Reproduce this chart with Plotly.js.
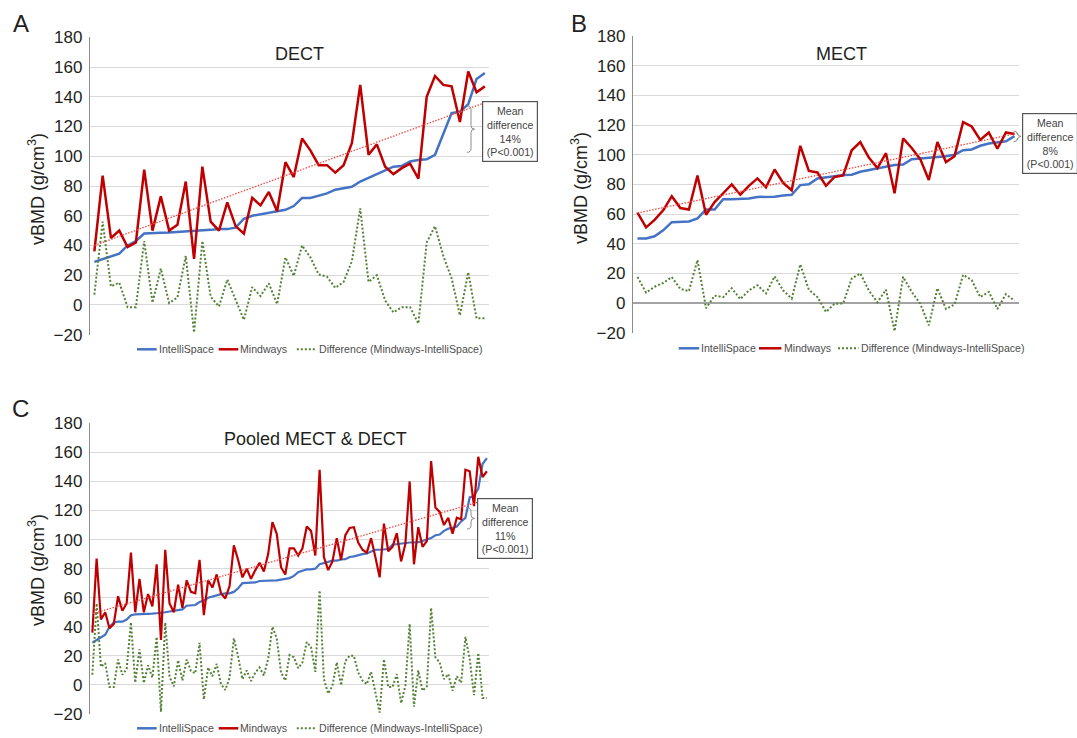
<!DOCTYPE html>
<html><head><meta charset="utf-8">
<script src="https://cdn.plot.ly/plotly-3.0.1.min.js"></script>
<style>html,body{margin:0;padding:0;background:#fff}#chart{width:1077px;height:738px}</style>
</head><body><div id="chart"></div>
<script>
// ---------- DATA ----------
// Panel A: DECT (48 cases, sorted by IntelliSpace)
const dectIntelli = [29,31,32.5,34.5,40,43,48,48.5,48.5,48.7,49,49.3,49.5,50,50.5,51,51,52,58,60,61,61.5,62.5,64,66.5,72,72,73.5,75,77.5,78.5,79.5,83,85.5,88,90,93,93.5,96.5,97.5,98,101,115,129,130,135,152,156];
const dectMindways = [36,87,45,50,39,42,91,50,73,50,54,83,31,93,56,50,69,53,48,72,67,76,63,96,86,112,104,94,94,89,94,109,148,101,108,93,88,92,95,85,140,154,148,147,123,157,143,147];
const dectDiff = [7,56,12.5,15,-1.5,-1.5,43,1.5,24.5,1.3,5,33,-18.5,43,5.5,-1,17,3,-10,12,6,14.5,0.5,32,19.5,40,32,20.5,19,11.5,15.5,29.5,65,15.5,20,3,-5,-1.5,-1.5,-12.5,42,53,33,18,-7,22,-9,-9];
const dectTrend = [40,136];          // Mindways linear trend at first / last case

// Panel B: MECT (45 cases)
const mectIntelli = [43.5,43.5,45,49,54.5,54.5,55,57,63,63,70,70,70.3,70.5,71.5,71.5,71.7,72.5,73,79.5,80,84,85,85.5,86.3,86.5,88.5,89.5,90.5,92,93,93.3,97,97.5,98,98.2,99,100,103,103.5,106,107.5,108,109,112.5];
const mectMindways = [61,51,56,62.5,72,64,63,86,59.5,68,74,80,73,79,84,78,90,81,76,106,89,88,79,85,86,103,108.5,98,91,101,74,111,104.5,97,83,108.5,95,99,122,119,110,115,104,115,114];
const mectDiff = [17.5,7,11,13.5,17.5,9.5,8,29,-3.5,5,4,10,2.7,8.5,12,6.5,18,8.5,3,26,9,4,-6,-0.5,-0.3,16.5,20,8.5,0.5,9,-19,17.7,7.5,-0.5,-15,10,-4,-1,19,15.5,4,7.5,-4,6,1.5];
const mectTrend = [60.7,114];

// Panel C: pooled MECT & DECT (93 cases)
const pooledIntelli = [29,31,32.5,34.5,40,43,43.5,43.5,45,48,48.5,48.5,48.7,49,49,49.3,49.5,50,50.5,51,51,52,54.5,54.5,55,57,58,60,61,61.5,62.5,63,63,64,66.5,70,70,70.3,70.5,71.5,71.5,71.7,72,72,72.5,73,73.5,75,77.5,78.5,79.5,79.5,80,83,84,85,85.5,85.5,86.3,86.5,88,88.5,89.5,90,90.5,92,93,93,93.3,93.5,96.5,97,97.5,97.5,98,98,98.2,99,100,101,103,103.5,106,107.5,108,109,112.5,115,129,130,135,152,156];
const pooledMindways = [36,87,45,50,39,42,61,51,56,91,50,73,50,62.5,54,83,31,93,56,50,69,53,72,64,63,86,48,72,67,76,63,59.5,68,96,86,74,80,73,79,84,78,90,112,104,81,76,94,94,89,94,109,106,89,148,88,79,85,101,86,103,108,108.5,98,93,91,101,88,74,111,92,95,104.5,85,97,140,83,108.5,95,99,154,122,119,110,115,104,115,114,148,147,123,157,143,147];
const pooledDiff = [7,56,12.5,15,-1.5,-1.5,17.5,7,11,43,1.5,24.5,1.3,13.5,5,33,-18.5,43,5.5,-1,17,3,17.5,9.5,8,29,-10,12,6,14.5,0.5,-3.5,5,32,19.5,4,10,2.7,8.5,12,6.5,18,40,32,8.5,3,20.5,19,11.5,15.5,29.5,26,9,65,4,-6,-0.5,15.5,-0.3,16.5,20,20,8.5,3,0.5,9,-5,-19,17.7,-1.5,-1.5,7.5,-12.5,-0.5,42,-15,10,-4,-1,53,19,15.5,4,7.5,-4,6,1.5,33,18,-7,22,-9,-9];
const pooledTrend = [49,127.5];

const seriesNames = ['IntelliSpace','Mindways','Difference (Mindways-IntelliSpace)'];
const panelTitles = ['DECT','MECT','Pooled MECT &amp; DECT'];
const panelLetters = ['A','B','C'];
const meanDiffs = ['14%','8%','11%'];
const yTicks = [-20,0,20,40,60,80,100,120,140,160,180];

// ---------- LAYOUT HELPERS ----------
const W=1077,H=738;
const px=x=>x/W, py=y=>1-y/H;
const FONT='"Liberation Sans", Arial, Helvetica, sans-serif';
const COL={intelli:'#4472C4', mind:'#C00000', diff:'#548235', trend:'#EE4B45'};
const idx=n=>Array.from({length:n},(_,i)=>i+1);

const panels=[
 {ax:'', intelli:dectIntelli, mind:dectMindways, diff:dectDiff, trend:dectTrend,
  xd:[90.2,489], yd:[37.3,334.7], lw:2.5, zero:false,
  title:[299.6,54.3], letter:[20.7,23.5], ytitle:[36,189],
  box:[509.7,131], brace:[471,106,152.3], legY:349.3,
  leg:[[137,156.7,157.7],[218.7,238.3,239.3],[296.8,316,317.5]]},
 {ax:'2', intelli:mectIntelli, mind:mectMindways, diff:mectDiff, trend:mectTrend,
  xd:[633.2,1018.8], yd:[36,332.7], lw:2.5, zero:true,
  title:[841,54.3], letter:[578.5,23.5], ytitle:[579,188],
  box:[1049.5,144], brace:[1017.5,131,141.7], legY:348.3,
  leg:[[678.7,699.2,700],[759,781.4,782.5],[838,858.5,860]]},
 {ax:'3', intelli:pooledIntelli, mind:pooledMindways, diff:pooledDiff, trend:pooledTrend,
  xd:[90.2,489], yd:[423.3,714], lw:2.2, zero:false,
  title:[315,439], letter:[20.8,408.5], ytitle:[36,570],
  box:[505.3,528.8], brace:[471,507.7,529], legY:728.3,
  leg:[[137,156.7,157.7],[218.7,238.3,239.3],[296.8,316,317.5]]}
];

const traces=[], layout={
  width:W, height:H, margin:{l:0,r:0,t:0,b:0}, paper_bgcolor:'#fff', plot_bgcolor:'#fff',
  showlegend:false, font:{family:FONT,color:'#231f20'}, annotations:[], shapes:[]
};

panels.forEach((p,i)=>{
  const n=p.intelli.length, xs=idx(n);
  const xa='x'+p.ax, ya='y'+p.ax;
  traces.push({x:xs,y:p.intelli,xaxis:xa,yaxis:ya,mode:'lines',name:seriesNames[0],line:{color:COL.intelli,width:p.lw}});
  traces.push({x:xs,y:p.mind,xaxis:xa,yaxis:ya,mode:'lines',name:seriesNames[1],line:{color:COL.mind,width:p.lw}});
  traces.push({x:xs,y:p.diff,xaxis:xa,yaxis:ya,mode:'lines',name:seriesNames[2],line:{color:COL.diff,width:2,dash:'2px,2px'}});
  traces.push({x:[1,n],y:p.trend,xaxis:xa,yaxis:ya,mode:'lines',name:'trend',line:{color:COL.trend,width:1.3,dash:'1.5px,1.5px'}});

  layout['xaxis'+p.ax]={domain:[px(p.xd[0]),px(p.xd[1])], range:[0.5,n+0.5], anchor:ya,
    showgrid:false, zeroline:false, showline:false, showticklabels:false, ticks:'', fixedrange:true};
  layout['yaxis'+p.ax]={domain:[py(p.yd[1]),py(p.yd[0])], range:[-20,180], anchor:xa,
    tickmode:'array', tickvals:yTicks, showgrid:true, gridcolor:'#d9d9d9', gridwidth:1,
    zeroline:p.zero, zerolinecolor:'#a3a3a3', zerolinewidth:1.4,
    showline:true, linecolor:'#8c8c8c', linewidth:1.4, ticks:'', ticklabelstandoff:3,
    tickfont:{family:FONT,size:17,color:'#231f20'}, fixedrange:true};

  const A=layout.annotations;
  A.push({xref:'paper',yref:'paper',x:px(p.letter[0]),y:py(p.letter[1]),xanchor:'center',yanchor:'middle',
    text:panelLetters[i],showarrow:false,font:{family:FONT,size:24,color:'#231f20'}});
  A.push({xref:'paper',yref:'paper',x:px(p.title[0]),y:py(p.title[1]),xanchor:'center',yanchor:'middle',
    text:panelTitles[i],showarrow:false,font:{family:FONT,size:18,color:'#231f20'}});
  A.push({xref:'paper',yref:'paper',x:px(p.ytitle[0]),y:py(p.ytitle[1]),xanchor:'center',yanchor:'middle',
    text:'vBMD (g/cm<sup>3</sup>)',textangle:-90,showarrow:false,font:{family:FONT,size:18,color:'#231f20'}});
  A.push({xref:'paper',yref:'paper',x:px(p.box[0]),y:py(p.box[1]),xanchor:'center',yanchor:'middle',
    text:'Mean<br>difference<br>'+meanDiffs[i]+'<br>(P&lt;0.001)',showarrow:false,align:'center',
    width:48,height:53,borderpad:3,bordercolor:'#555',borderwidth:1.2,bgcolor:'#fff',
    font:{family:FONT,size:10.6,color:'#444'}});

  // brace "}"
  const [bx,b0,b1]=p.brace, bm=(b0+b1)/2, h=3.5;
  const P=(x,y)=>px(x).toFixed(5)+','+py(y).toFixed(5);
  layout.shapes.push({type:'path',xref:'paper',yref:'paper',line:{color:'#8c8c8c',width:1},
    path:'M'+P(bx-4,b0)+' Q'+P(bx,b0)+' '+P(bx,b0+h)+' L'+P(bx,bm-h)+' Q'+P(bx,bm)+' '+P(bx+3.5,bm)+
         ' Q'+P(bx,bm)+' '+P(bx,bm+h)+' L'+P(bx,b1-h)+' Q'+P(bx,b1)+' '+P(bx-4,b1)});

  // legend
  const cols=[COL.intelli,COL.mind,COL.diff];
  p.leg.forEach((l,k)=>{
    layout.shapes.push({type:'line',xref:'paper',yref:'paper',x0:px(l[0]),x1:px(l[1]),y0:py(p.legY),y1:py(p.legY),
      line:{color:cols[k],width:k==2?2:2.5,dash:k==2?'2px,2px':'solid'}});
    A.push({xref:'paper',yref:'paper',x:px(l[2]-1),y:py(p.legY),xanchor:'left',yanchor:'middle',
      text:seriesNames[k],showarrow:false,font:{family:FONT,size:10.6,color:'#4d4d4d'}});
  });
});

Plotly.newPlot('chart',traces,layout,{staticPlot:true,displayModeBar:false});
</script></body></html>
